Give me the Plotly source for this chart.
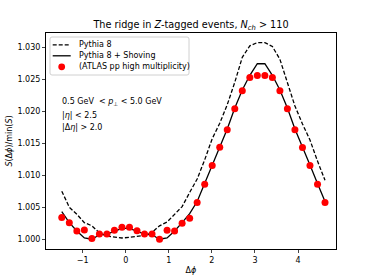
import numpy as np
import plotly.graph_objects as go

# bin centres in delta-phi (36 bins from -pi/2 to 3pi/2)
dphi = [-1.484, -1.309, -1.134, -0.960, -0.785, -0.611, -0.436, -0.262, -0.087,
        0.087, 0.262, 0.436, 0.611, 0.785, 0.960, 1.134, 1.309, 1.484,
        1.658, 1.833, 2.007, 2.182, 2.356, 2.531, 2.705, 2.880, 3.054,
        3.229, 3.403, 3.578, 3.752, 3.927, 4.102, 4.276, 4.451, 4.625]

pythia8 = [1.0075, 1.0050, 1.0039, 1.0026, 1.0021, 1.0010, 1.0005, 1.0004, 1.0002,
           1.0003, 1.0004, 1.0006, 1.0011, 1.0021, 1.0027, 1.0039, 1.0051, 1.0073,
           1.0094, 1.0124, 1.0157, 1.0181, 1.0210, 1.0245, 1.0284, 1.0302, 1.0307,
           1.0307, 1.0301, 1.0281, 1.0246, 1.0208, 1.0180, 1.0155, 1.0122, 1.0092]

shoving = [1.0043, 1.0026, 1.0013, 1.0002, 1.0000, 1.0007, 1.0008, 1.0012, 1.0017,
           1.0017, 1.0012, 1.0008, 1.0007, 1.0000, 1.0002, 1.0013, 1.0026, 1.0040,
           1.0059, 1.0087, 1.0116, 1.0145, 1.0172, 1.0205, 1.0233, 1.0256, 1.0274,
           1.0274, 1.0256, 1.0233, 1.0205, 1.0172, 1.0145, 1.0116, 1.0087, 1.0059]

atlas = [1.00338, 1.00259, 1.00130, 1.00145, 1.00010, 1.00083, 1.00083, 1.00140, 1.00187,
         1.00187, 1.00134, 1.00083, 1.00083, 1.00000, 1.00140, 1.00130, 1.00250, 1.00328,
         1.00572, 1.00860, 1.01150, 1.01438, 1.01708, 1.02036, 1.02317, 1.02525, 1.02556,
         1.02556, 1.02525, 1.02317, 1.02036, 1.01708, 1.01431, 1.01150, 1.00860, 1.00572]

series_names = ["Pythia 8", "Pythia 8 + Shoving", "(ATLAS pp high multiplicity)"]
xticks = [-1, 0, 1, 2, 3, 4]
yticks = [1.000, 1.005, 1.010, 1.015, 1.020, 1.025, 1.030]

FONT = "DejaVu Sans"
W, H = 374, 280
L, R, T, B = 46, 38, 33, 31
PW, PH = W - L - R, H - T - B


def xp(px):
    return (px - L) / PW


def yp(py):
    return 1 - (py - T) / PH


fig = go.Figure()
fig.add_trace(go.Scatter(x=dphi, y=pythia8, mode="lines", name=series_names[0],
                         line=dict(color="black", width=1.3, dash="4px,2px")))
fig.add_trace(go.Scatter(x=dphi, y=shoving, mode="lines", name=series_names[1],
                         line=dict(color="black", width=1.3)))
fig.add_trace(go.Scatter(x=dphi, y=atlas, mode="markers", name=series_names[2],
                         marker=dict(color="red", size=7, line=dict(width=0))))

fig.update_layout(
    width=W, height=H,
    margin=dict(l=L, r=R, t=T, b=B, autoexpand=False),
    paper_bgcolor="white", plot_bgcolor="white",
    font=dict(family=FONT, size=8, color="black"),
    title=dict(text="The ridge in <i>Z</i>-tagged events, <i>N</i><sub><i>ch</i></sub> > 110",
               x=0.5, xref="paper", xanchor="center", y=1 - 24.5 / H, yanchor="middle",
               font=dict(size=9.7, family=FONT)),
    showlegend=False,
)
fig.update_xaxes(range=[-1.85, 4.88], tickvals=xticks, ticks="outside", ticklen=3,
                 showgrid=False, zeroline=False, showline=True, linecolor="black",
                 linewidth=1, mirror=True, automargin=False,
                 title=dict(text="Δ<i>ϕ</i>", standoff=3, font=dict(size=8)))
fig.update_yaxes(range=[0.99848, 1.0322], tickvals=yticks, tickformat=".3f",
                 ticks="outside", ticklen=3, showgrid=False, zeroline=False,
                 showline=True, linecolor="black", linewidth=1, mirror=True,
                 automargin=False,
                 title=dict(text="<i>S</i>(Δ<i>ϕ</i>)/min(<i>S</i>)", standoff=3,
                            font=dict(size=8)))

# legend drawn by hand to match compact matplotlib spacing
bx0, bx1, by0, by1 = xp(50), xp(189), yp(75), yp(37)
rx, ry = 2 / PW, 2 / PH
path = (f"M {bx0+rx},{by1} L {bx1-rx},{by1} Q {bx1},{by1} {bx1},{by1-ry} "
        f"L {bx1},{by0+ry} Q {bx1},{by0} {bx1-rx},{by0} L {bx0+rx},{by0} "
        f"Q {bx0},{by0} {bx0},{by0+ry} L {bx0},{by1-ry} Q {bx0},{by1} {bx0+rx},{by1} Z")
fig.add_shape(type="path", path=path, xref="paper", yref="paper",
              line=dict(color="#d0d0d0", width=1), fillcolor="rgba(255,255,255,0.8)",
              layer="above")
rows = [44.8, 55.8, 66.8]
fig.add_shape(type="line", xref="paper", yref="paper", x0=xp(52.7), x1=xp(70.7),
              y0=yp(rows[0]), y1=yp(rows[0]), line=dict(color="black", width=1.3, dash="4px,2px"),
              layer="above")
fig.add_shape(type="line", xref="paper", yref="paper", x0=xp(52.7), x1=xp(70.7),
              y0=yp(rows[1]), y1=yp(rows[1]), line=dict(color="black", width=1.3),
              layer="above")
fig.add_shape(type="circle", xref="paper", yref="paper", x0=xp(61.7 - 3.4), x1=xp(61.7 + 3.4),
              y0=yp(rows[2] + 3.4), y1=yp(rows[2] - 3.4), fillcolor="red",
              line=dict(width=0), layer="above")
for name, r in zip(series_names, rows):
    fig.add_annotation(text=name, xref="paper", yref="paper", x=xp(76.5), y=yp(r),
                       xanchor="left", yanchor="middle", showarrow=False,
                       font=dict(size=8, family=FONT))

notes = ["0.5 GeV  < <i>p</i><sub>⊥</sub> < 5.0 GeV", "|<i>η</i>| < 2.5", "|Δ<i>η</i>| > 2.0"]
ypix = [101.7, 115, 127.7]
for t, yy in zip(notes, ypix):
    fig.add_annotation(text=t, xref="paper", yref="paper", x=xp(59.5),
                       y=yp(yy), xanchor="left", yanchor="middle",
                       showarrow=False, font=dict(size=8, family=FONT))

fig.write_html("out.html", config={"displayModeBar": False},
               post_script="document.body.style.margin='0';document.body.style.padding='0';")
